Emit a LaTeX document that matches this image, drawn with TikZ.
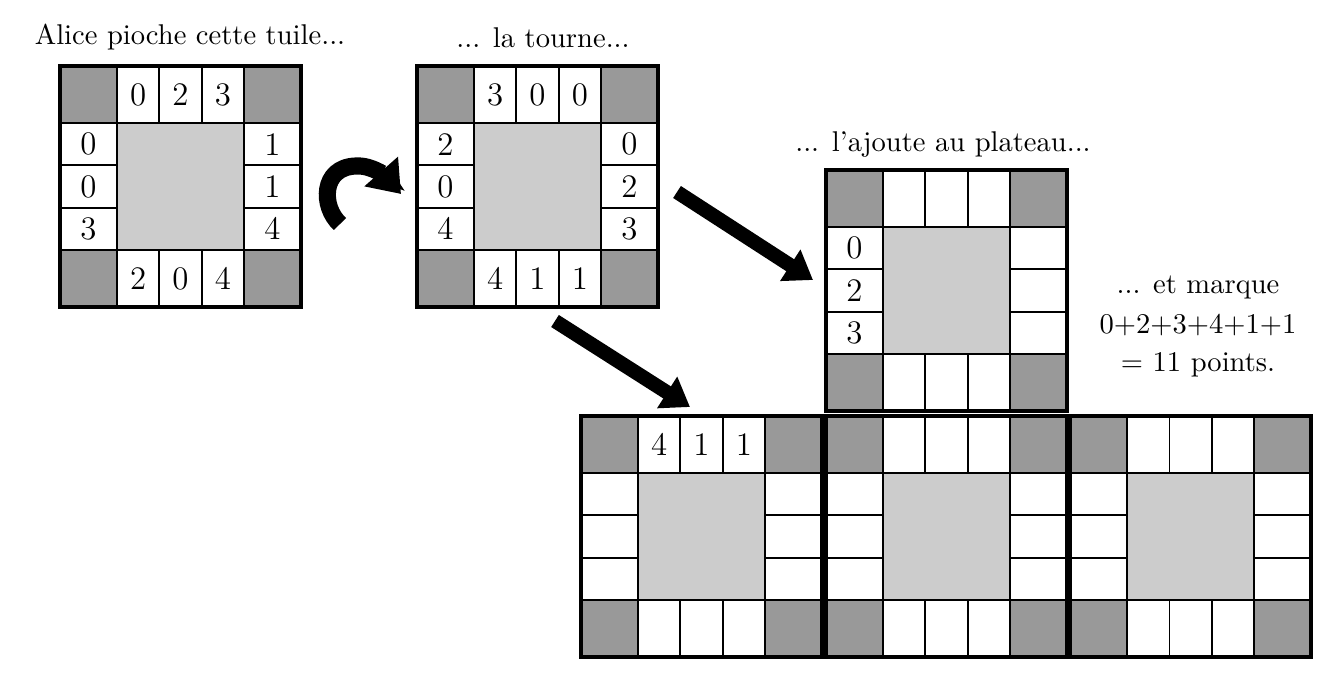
\documentclass[tikz,border=0pt]{standalone}
\usetikzlibrary{arrows.meta}
\tikzset{
  cornercell/.style={fill=black!40, draw=black, line width=0.6pt},
  edgecell/.style={fill=white, draw=black, line width=0.6pt},
  centercell/.style={fill=black!20, draw=black, line width=0.6pt},
  tileframe/.style={draw=black, line width=1.1pt},
  digit/.style={font=\fontsize{11.5}{12}\selectfont, inner sep=0pt},
  captext/.style={font=\normalsize, inner sep=0pt, anchor=base},
  bigarrow/.style={line width=5pt, -{Triangle[length=9.5pt,width=12.5pt]}},
  curvarrow/.style={line width=6pt, -{Triangle[length=10.5pt,width=15pt]}},
}
% #1 x, #2 y (top-left), #3 name, #4 top, #5 left, #6 right, #7 bottom
\newcommand\tuile[7]{%
  \begin{scope}[shift={(#1,#2)}]
    \coordinate (#3) at (120.5,120.5);
    \foreach \k in {0,1,2} {
      \draw[edgecell] ({57+\k*42.333},0) rectangle ({57+(\k+1)*42.333},57);
      \draw[edgecell] ({57+\k*42.333},184) rectangle ({57+(\k+1)*42.333},241);
      \draw[edgecell] (0,{57+\k*42.333}) rectangle (57,{57+(\k+1)*42.333});
      \draw[edgecell] (184,{57+\k*42.333}) rectangle (241,{57+(\k+1)*42.333});
    }
    \draw[cornercell] (0,0) rectangle (57,57);
    \draw[cornercell] (184,0) rectangle (241,57);
    \draw[cornercell] (0,184) rectangle (57,241);
    \draw[cornercell] (184,184) rectangle (241,241);
    \draw[centercell] (57,57) rectangle (184,184);
    \draw[tileframe] (0,0) rectangle (241,241);
    \foreach \d [count=\i from 0] in {#4}
      \node[digit] (#3-t\i) at ({57+(\i+0.5)*42.333},28.5) {\d};
    \foreach \d [count=\i from 0] in {#5}
      \node[digit] (#3-l\i) at (28.5,{57+(\i+0.5)*42.333}) {\d};
    \foreach \d [count=\i from 0] in {#6}
      \node[digit] (#3-r\i) at (212.5,{57+(\i+0.5)*42.333}) {\d};
    \foreach \d [count=\i from 0] in {#7}
      \node[digit] (#3-b\i) at ({57+(\i+0.5)*42.333},212.5) {\d};
  \end{scope}}
\begin{document}
\begin{tikzpicture}[x=0.35pt,y=-0.35pt]
  \fill[white] (0,0) rectangle (1341,683);
  \useasboundingbox (0,0) rectangle (1341,683);

  \tuile{60}{66}{tA}{0,2,3}{0,0,3}{1,1,4}{2,0,4}
  \tuile{417}{66}{tB}{3,0,0}{2,0,4}{0,2,3}{4,1,1}
  \tuile{826}{170}{tC}{}{0,2,3}{}{}
  \tuile{581}{416}{tD}{4,1,1}{}{}{}
  \tuile{826}{416}{tE}{}{}{}{}
  \tuile{1070}{416}{tF}{}{}{}{}

  \node[captext] (cap1) at (190,45) {Alice pioche cette tuile...};
  \node[captext] (cap2) at (543,48) {... la tourne...};
  \node[captext] (cap3) at (943,151) {... l'ajoute au plateau...};
  \node[captext] (cap4a) at (1198,293) {... et marque};
  \node[captext] (cap4b) at (1198,333) {0+2+3+4+1+1};
  \node[captext] (cap4c) at (1198,371) {= 11 points.};

  \coordinate (rs) at (340,224);
  \coordinate (re) at (401,194);
  \draw[curvarrow] (rs) .. controls (321,207) and (321,167) .. (356,166)
                        .. controls (372,165) and (386,177) .. (re);

  \coordinate (as) at (677,192);
  \coordinate (ae) at (813,280);
  \draw[bigarrow] (as) -- (ae);
  \coordinate (bs) at (555,321);
  \coordinate (be) at (690,407);
  \draw[bigarrow] (bs) -- (be);
\end{tikzpicture}
\end{document}
